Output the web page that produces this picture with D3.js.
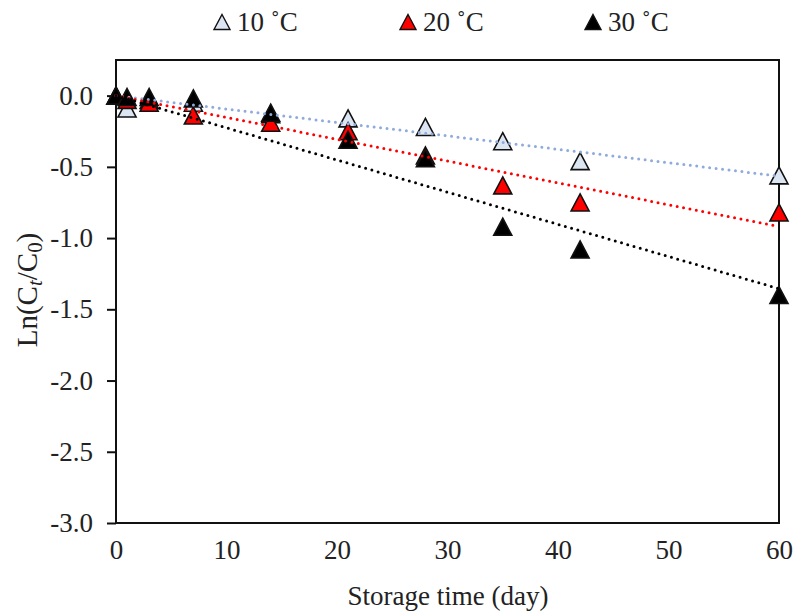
<!DOCTYPE html>
<html><head><meta charset="utf-8">
<script src="https://cdn.jsdelivr.net/npm/d3@7"></script>
<style>body{margin:0;background:#fff}svg{display:block}text{font-family:"Times New Roman","Liberation Serif","DejaVu Serif",serif;fill:#222}</style>
</head><body><svg id="c" width="795" height="611"></svg>
<script>
const days = [0, 1, 3, 7, 14, 21, 28, 35, 42, 60];
const seriesNames = ["10 ˚C", "20 ˚C", "30 ˚C"];
const values10 = [0, -0.09, -0.03, -0.05, -0.13, -0.16, -0.22, -0.32, -0.46, -0.56];
const values20 = [0, -0.03, -0.05, -0.14, -0.19, -0.25, -0.42, -0.63, -0.75, -0.82];
const values30 = [0, -0.01, -0.01, -0.02, -0.12, -0.31, -0.44, -0.92, -1.08, -1.40];
const fillColors = ["#dce6f2", "#ff0000", "#000000"];
const lineColors = ["#8faadc", "#ff0000", "#000000"];
const xTicks = [0, 10, 20, 30, 40, 50, 60];
const yTicks = [0, -0.5, -1.0, -1.5, -2.0, -2.5, -3.0];

const series = seriesNames.map((n, i) => ({name: n, values: [values10, values20, values30][i], fill: fillColors[i], line: lineColors[i]}));

const svg = d3.select("#c");
const L = 116, R = 779, T = 60, B = 523;
const x = d3.scaleLinear().domain([0, 60]).range([L, R]);
const y = d3.scaleLinear().domain([-3, 0.25]).range([B, T]);
const FS = 27;
const FF = '"Times New Roman","Liberation Serif","DejaVu Serif",serif';

// frame
svg.append("rect").attr("x", L).attr("y", T).attr("width", R - L).attr("height", B - T)
  .attr("fill", "none").attr("stroke", "#111").attr("stroke-width", 2);

// y axis
const yAxis = d3.axisLeft(y).tickValues(yTicks).tickSize(9).tickPadding(14).tickFormat(d => d.toFixed(1));
const ga = svg.append("g").attr("transform", `translate(${L},0)`).call(yAxis).attr("font-family", FF);
ga.select(".domain").remove();
ga.selectAll("line").attr("stroke", "#111").attr("stroke-width", 2);
ga.selectAll("text").attr("font-size", FS).style("font-family", FF).attr("fill", "#222");

// x axis (labels only)
const xAxis = d3.axisBottom(x).tickValues(xTicks).tickSize(0).tickPadding(17).tickFormat(d3.format("d"));
const gx = svg.append("g").attr("transform", `translate(0,${B})`).call(xAxis).attr("font-family", FF);
gx.select(".domain").remove();
gx.selectAll("text").attr("font-size", FS).style("font-family", FF).attr("fill", "#222");

// axis titles
svg.append("text").attr("x", 448).attr("y", 605).attr("text-anchor", "middle")
  .attr("font-size", FS).style("font-family", FF).text("Storage time (day)");
const yt = svg.append("text").attr("transform", "translate(37,290) rotate(-90)").attr("text-anchor", "middle").attr("font-size", 29).style("font-family", FF);
yt.append("tspan").text("Ln(C");
yt.append("tspan").attr("baseline-shift", "-22%").attr("font-size", 29 * 0.72).attr("font-style", "italic").text("t");
yt.append("tspan").text("/C");
yt.append("tspan").attr("baseline-shift", "-22%").attr("font-size", 29 * 0.72).text("0");
yt.append("tspan").text(")");

// triangle marker
const W = 18, H = 17;
const tri = `M0,${-H / 2}L${W / 2},${H / 2}L${-W / 2},${H / 2}Z`;

const plot = svg.append("g");
series.forEach(s => {
  plot.append("g").selectAll("path").data(days.map((d, i) => [d, s.values[i]])).join("path")
    .attr("d", tri).attr("transform", d => `translate(${x(d[0])},${y(d[1])})`)
    .attr("fill", s.fill).attr("stroke", "#111").attr("stroke-width", 1.6).attr("stroke-linejoin", "miter");
});

// linear trendlines through origin (least squares)
series.forEach(s => {
  const sxy = d3.sum(days, (d, i) => d * s.values[i]);
  const sxx = d3.sum(days, d => d * d);
  const k = sxy / sxx;
  const line = d3.line().x(d => x(d)).y(d => y(k * d));
  plot.append("path").attr("d", line([0, 60])).attr("fill", "none")
    .attr("stroke", s.line).attr("stroke-width", 3).attr("stroke-linecap", "round")
    .attr("stroke-dasharray", "0 6.5");
});

// legend
const legX = [222, 408, 593];
series.forEach((s, i) => {
  const g = svg.append("g").attr("transform", `translate(${legX[i]},22)`);
  g.append("path").attr("d", `M0,-7.5L8,7.5L-8,7.5Z`).attr("fill", s.fill).attr("stroke", "#111").attr("stroke-width", 1.4);
  g.append("text").attr("x", 15).attr("y", 9).attr("font-size", FS).style("font-family", FF).text(s.name);
});
</script></body></html>
